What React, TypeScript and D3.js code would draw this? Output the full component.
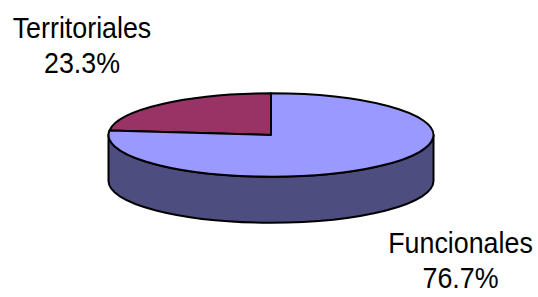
import React from "react";
import * as d3 from "d3";

const categories = ["Territoriales", "Funcionales"];
const values = [23.3, 76.7];
const percentLabels = ["23.3%", "76.7%"];
const topColors = ["#993366", "#9999FF"];
const sideColors = ["#4D1A33", "#4D4D80"];

const W = 538;
const H = 297;
const cx = 271;
const cy = 135;
const rx = 162.5;
const ry = 41.7;
const depth = 46;

const total = d3.sum(values);
const pie = d3
  .pie<number>()
  .sort(null)
  .startAngle(-(values[0] / total) * 2 * Math.PI)
  .endAngle(2 * Math.PI - (values[0] / total) * 2 * Math.PI);
const arcs = pie(values);

const px = (a: number) => cx + rx * Math.sin(a);
const py = (a: number) => cy - ry * Math.cos(a);

function topPath(a0: number, a1: number) {
  const large = a1 - a0 > Math.PI ? 1 : 0;
  return `M${cx},${cy}L${px(a0)},${py(a0)}A${rx},${ry} 0 ${large} 1 ${px(a1)},${py(a1)}Z`;
}

function sidePath(a0: number, a1: number) {
  const large = a1 - a0 > Math.PI ? 1 : 0;
  return (
    `M${px(a0)},${py(a0)}A${rx},${ry} 0 ${large} 1 ${px(a1)},${py(a1)}` +
    `L${px(a1)},${py(a1) + depth}A${rx},${ry} 0 ${large} 0 ${px(a0)},${py(a0) + depth}Z`
  );
}

function frontRange(a0: number, a1: number): [number, number] | null {
  const lo = Math.PI / 2;
  const hi = (3 * Math.PI) / 2;
  for (const k of [-2, -1, 0, 1]) {
    const s = Math.max(a0 + k * 2 * Math.PI, lo);
    const e = Math.min(a1 + k * 2 * Math.PI, hi);
    if (e > s) return [s, e];
  }
  return null;
}

const labelPos = [
  { x: 82, y: 38.3 },
  { x: 460.5, y: 253.3 },
];

export default function App() {
  const sx = 0.925;
  return (
    <svg
      width={W}
      height={H}
      style={{ position: "absolute", left: 0, top: 0, background: "#fff" }}
      fontFamily="'Liberation Sans', Arial, sans-serif"
    >
      <rect width={W} height={H} fill="#fff" />
      {arcs.map((a, i) => {
        const r = frontRange(a.startAngle, a.endAngle);
        if (!r) return null;
        return (
          <path
            key={"s" + i}
            d={sidePath(r[0], r[1])}
            fill={sideColors[i]}
            stroke="#000"
            strokeWidth={2}
            strokeLinejoin="round"
          />
        );
      })}
      {arcs.map((a, i) => (
        <path
          key={"t" + i}
          d={topPath(a.startAngle, a.endAngle)}
          fill={topColors[i]}
          stroke="#000"
          strokeWidth={2}
          strokeLinejoin="round"
        />
      ))}
      {categories.map((c, i) => (
        <g key={"l" + i}>
          <text
            transform={`translate(${labelPos[i].x},${labelPos[i].y}) scale(${sx},1)`}
            textAnchor="middle"
            fontSize={29}
            fill="#000"
          >
            {c}
          </text>
          <text
            transform={`translate(${labelPos[i].x},${labelPos[i].y + 35}) scale(${sx},1)`}
            textAnchor="middle"
            fontSize={29}
            fill="#000"
          >
            {percentLabels[i]}
          </text>
        </g>
      ))}
    </svg>
  );
}
